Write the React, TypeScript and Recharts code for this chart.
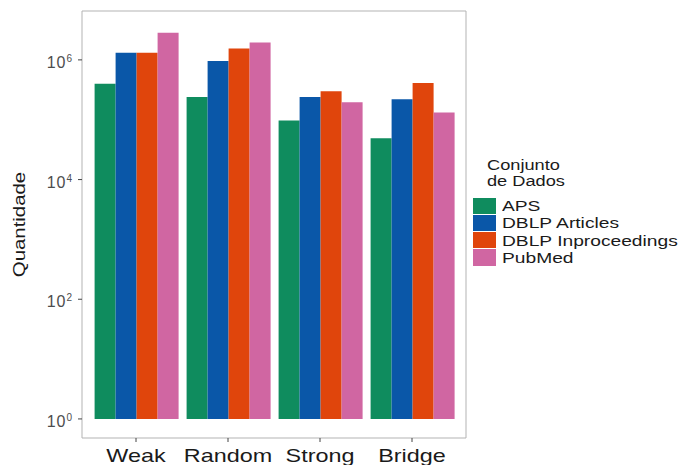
import { Bar, BarChart, XAxis, YAxis } from 'recharts';

const categories = ['Weak', 'Random', 'Strong', 'Bridge'];
const aps = [4.0e5, 2.4e5, 9.7e4, 4.9e4];
const dblpArticles = [1.32e6, 9.6e5, 2.4e5, 2.2e5];
const dblpInproceedings = [1.32e6, 1.55e6, 3.0e5, 4.1e5];
const pubmed = [2.85e6, 1.95e6, 1.95e5, 1.32e5];
const yTicks = [1, 100, 1e4, 1e6];

const series = [
  { key: 'aps', name: 'APS', values: aps, color: '#0f8c5e' },
  { key: 'dblpArticles', name: 'DBLP Articles', values: dblpArticles, color: '#0a57a8' },
  { key: 'dblpInproceedings', name: 'DBLP Inproceedings', values: dblpInproceedings, color: '#e0450c' },
  { key: 'pubmed', name: 'PubMed', values: pubmed, color: '#d066a2' },
];

// bars go from 1 (10^0) up to the value, like ggplot on a log axis
const data = categories.map((name, i) => {
  const row: Record<string, any> = { name };
  series.forEach((s) => {
    row[s.key] = [1, s.values[i]];
  });
  return row;
});

const font = '"Liberation Sans", Arial, sans-serif';

const XTick = ({ x, y, payload }: any) => (
  <text
    x={0}
    y={0}
    transform={`translate(${x},${y + 18}) scale(1.3,1)`}
    textAnchor='middle'
    fontSize={18}
    fill='#1a1a1a'
    fontFamily={font}
  >
    {payload.value}
  </text>
);

const YTick = ({ x, y, payload }: any) => {
  const exp = Math.round(Math.log10(payload.value));
  return (
    <text x={x - 4} y={y + 8} textAnchor='end' fill='#4d4d4d' fontFamily={font}>
      <tspan fontSize={16} letterSpacing={1}>10</tspan>
      <tspan fontSize={10} dy={-6}>{exp}</tspan>
    </text>
  );
};

const YLabel = ({ viewBox }: any) => {
  const cy = viewBox.y + viewBox.height / 2;
  return (
    <text
      x={0}
      y={0}
      transform={`translate(25,${cy}) rotate(-90) scale(1.2,1)`}
      textAnchor='middle'
      fontSize={17}
      fill='#1a1a1a'
      fontFamily={font}
    >
      Quantidade
    </text>
  );
};

function App() {
  return (
    <div style={{ position: 'absolute', left: 0, top: 0, width: 684, height: 465, background: '#fff' }}>
      <BarChart
        width={684}
        height={465}
        data={data}
        margin={{ top: 10, right: 217, left: 0, bottom: 0 }}
        barCategoryGap='5%'
        barGap={0}
      >
        <XAxis
          dataKey='name'
          height={27}
          padding={{ left: 8, right: 8 }}
          axisLine={{ stroke: '#b3b3b3' }}
          tickLine={{ stroke: '#444' }}
          tickSize={4}
          tick={<XTick />}
          interval={0}
        />
        <XAxis
          xAxisId='top'
          orientation='top'
          dataKey='name'
          height={1}
          tick={false}
          tickLine={false}
          axisLine={{ stroke: '#b3b3b3' }}
        />
        <YAxis
          scale='log'
          type='number'
          domain={[0.48, 6.56e6]}
          allowDataOverflow
          ticks={yTicks}
          width={82}
          axisLine={{ stroke: '#b3b3b3' }}
          tickLine={{ stroke: '#444' }}
          tickSize={4}
          tick={<YTick />}
          label={<YLabel />}
        />
        <YAxis
          yAxisId='right'
          orientation='right'
          type='number'
          domain={[0, 1]}
          width={1}
          tick={false}
          tickLine={false}
          axisLine={{ stroke: '#b3b3b3' }}
        />
        {series.map((s) => (
          <Bar key={s.key} dataKey={s.key} name={s.name} fill={s.color} isAnimationActive={false} />
        ))}
      </BarChart>
      <div style={{ position: 'absolute', left: 473, top: 157, fontFamily: font, color: '#1a1a1a' }}>
        <div
          style={{
            fontSize: 14,
            lineHeight: '16px',
            marginLeft: 14,
            marginBottom: 8,
            transform: 'scaleX(1.3)',
            transformOrigin: 'left',
          }}
        >
          Conjunto
          <br />
          de Dados
        </div>
        {series.map((s) => (
          <div key={s.key} style={{ display: 'flex', alignItems: 'center', height: 17.3 }}>
            <div style={{ width: 23, height: 16.3, background: s.color }} />
            <span
              style={{
                marginLeft: 6,
                fontSize: 15,
                whiteSpace: 'nowrap',
                transform: 'scaleX(1.28)',
                transformOrigin: 'left',
              }}
            >
              {s.name}
            </span>
          </div>
        ))}
      </div>
    </div>
  );
}

export default App;
